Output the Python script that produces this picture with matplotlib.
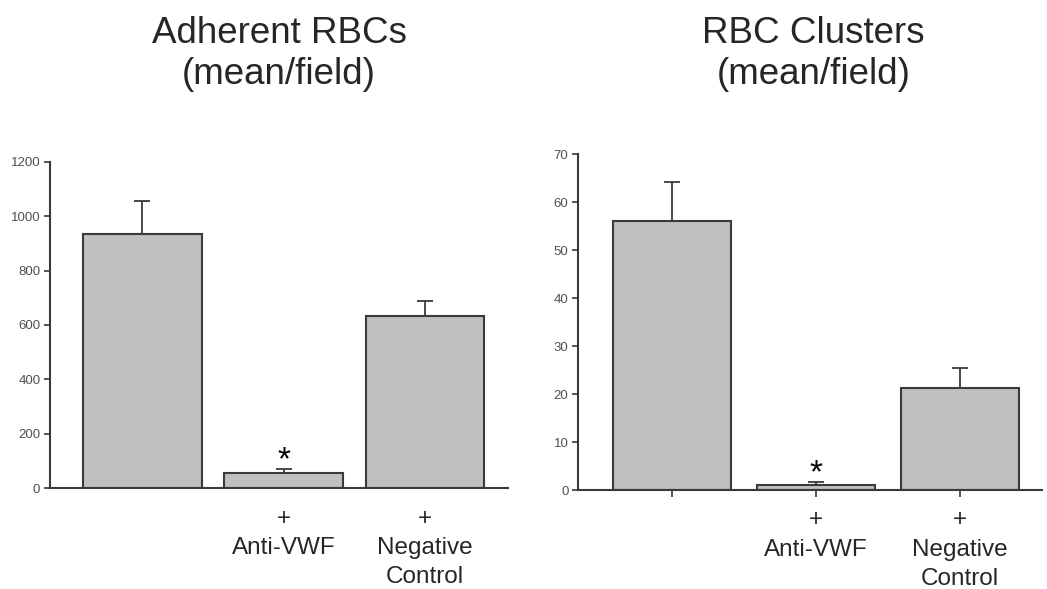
import matplotlib
matplotlib.use("Agg")
import matplotlib.pyplot as plt
import numpy as np

# data
groups = ["", "+\nAnti-VWF", "+\nNegative\nControl"]
adherent_mean = [933, 55, 634]
adherent_err = [123, 15, 54]
cluster_mean = [56.1, 1.0, 21.2]
cluster_err = [8.0, 0.7, 4.2]
adherent_ticks = [0, 200, 400, 600, 800, 1000, 1200]
cluster_ticks = [0, 10, 20, 30, 40, 50, 60, 70]

BAR = "#c0c0c0"
EDGE = "#3a3a3a"
TXT = "#262626"
FONT = "Liberation Sans"

fig = plt.figure(figsize=(10.47, 5.89), dpi=100)
ax1 = fig.add_axes([0.0478, 0.171, 0.4374, 0.5545])
ax2 = fig.add_axes([0.5523, 0.168, 0.4426, 0.5705])


def draw(ax, means, errs, ticks, width, xlim, xticks_on):
    x = np.arange(len(means))
    ax.bar(x, means, width=width, color=BAR, edgecolor=EDGE, linewidth=1.5, zorder=2)
    ax.errorbar(x, means, yerr=[np.zeros(len(errs)), errs], fmt="none",
                ecolor=EDGE, elinewidth=1.3, capsize=6, capthick=1.3, zorder=1)
    # significance star above the anti-VWF bar
    ax.annotate("*", (x[1], means[1] + errs[1]), xytext=(0, 6),
                textcoords="offset points", ha="center", va="center",
                fontsize=24, fontfamily=FONT, color="black")
    ax.set_xlim(*xlim)
    ax.set_ylim(ticks[0], ticks[-1])
    ax.set_yticks(ticks)
    ax.set_xticks(x)
    ax.set_xticklabels(groups, fontfamily=FONT, fontsize=17.5,
                       color=TXT, linespacing=1.42)
    ax.tick_params(axis="x", length=5 if xticks_on else 0, width=1.2,
                   color=EDGE, pad=9 if xticks_on else 14)
    ax.tick_params(axis="y", length=4, width=1.2, color=EDGE, labelsize=9.5,
                   labelcolor="#505050", pad=3)
    for lbl in ax.get_yticklabels():
        lbl.set_fontfamily(FONT)
    for s in ["top", "right"]:
        ax.spines[s].set_visible(False)
    for s in ["left", "bottom"]:
        ax.spines[s].set_color(EDGE)
        ax.spines[s].set_linewidth(1.5)


draw(ax1, adherent_mean, adherent_err, adherent_ticks, 0.84, (-0.654, 2.587), False)
draw(ax2, cluster_mean, cluster_err, cluster_ticks, 0.823, (-0.65, 2.567), True)

fig.text(0.2665, 0.972, "Adherent RBCs\n(mean/field)", ha="center", va="top",
         fontsize=26.5, fontfamily=FONT, color=TXT, linespacing=1.2)
fig.text(0.777, 0.972, "RBC Clusters\n(mean/field)", ha="center", va="top",
         fontsize=26.5, fontfamily=FONT, color=TXT, linespacing=1.2)

fig.savefig("out.png", dpi=100, facecolor="white")
